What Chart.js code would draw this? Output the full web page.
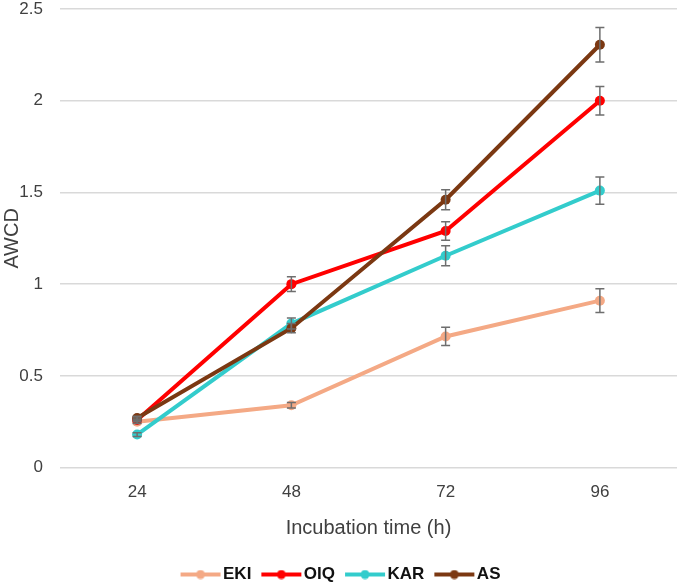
<!DOCTYPE html>
<html>
<head>
<meta charset="utf-8">
<script src="https://cdn.jsdelivr.net/npm/chart.js@4.4.1/dist/chart.umd.min.js"></script>
<style>
  html, body { margin: 0; padding: 0; background: #fff; }
  #wrap { width: 685px; height: 588px; }
</style>
</head>
<body>
<div id="wrap"><canvas id="awcd-chart"></canvas></div>
<script>
const hours = ["24", "48", "72", "96"];
const yTicks = [0, 0.5, 1, 1.5, 2, 2.5];

const ekiValues = [0.25, 0.34, 0.715, 0.91];
const oiqValues = [0.26, 1.0, 1.29, 2.0];
const karValues = [0.18, 0.785, 1.155, 1.51];
const asValues = [0.27, 0.76, 1.46, 2.305];

const ekiErr = [0.01, 0.015, 0.05, 0.065];
const oiqErr = [0.01, 0.04, 0.05, 0.078];
const karErr = [0.01, 0.03, 0.055, 0.074];
const asErr = [0.01, 0.025, 0.055, 0.094];

const colors = ['#F4A985', '#FF0000', '#33CCCC', '#7B3812'];

// line + dot legend symbol, drawn off-centre so the gap to the text stays small
function legendSymbol(color){
    const c = document.createElement('canvas');
    c.width = 52; c.height = 10;
    const g = c.getContext('2d');
    g.strokeStyle = color;
    g.lineWidth = 4;
    g.beginPath(); g.moveTo(11, 5); g.lineTo(51, 5); g.stroke();
    g.fillStyle = color;
    g.beginPath(); g.arc(31, 5, 4.5, 0, Math.PI * 2); g.fill();
    return c;
}

function makeSet(label, data, errs, color, order){
    return {
        label: label,
        data: data,
        errors: errs,
        borderColor: color,
        backgroundColor: color,
        borderWidth: 4,
        pointRadius: 5,
        pointHoverRadius: 5,
        pointBorderWidth: 0,
        pointStyle: 'circle',
        legendSymbol: legendSymbol(color),
        tension: 0,
        order: order
    };
}

const errorBars = {
    id: 'errorBars',
    afterDatasetsDraw(chart){
        const ctx = chart.ctx;
        const y = chart.scales.y;
        ctx.save();
        ctx.strokeStyle = '#6e6e6e';
        ctx.lineWidth = 1.5;
        chart.data.datasets.forEach((ds, i) => {
            const meta = chart.getDatasetMeta(i);
            meta.data.forEach((pt, j) => {
                const e = ds.errors[j];
                if (!e) return;
                const top = y.getPixelForValue(ds.data[j] + e);
                const bot = y.getPixelForValue(ds.data[j] - e);
                if (bot - top < 3) return;
                ctx.beginPath();
                ctx.moveTo(pt.x, top); ctx.lineTo(pt.x, bot);
                ctx.moveTo(pt.x - 4.5, top); ctx.lineTo(pt.x + 4.5, top);
                ctx.moveTo(pt.x - 4.5, bot); ctx.lineTo(pt.x + 4.5, bot);
                ctx.stroke();
            });
        });
        ctx.restore();
    }
};

const tickFont = { family: 'Liberation Sans', size: 17 };
const titleFont = { family: 'Liberation Sans', size: 20 };

const awcdCanvas = document.getElementById('awcd-chart');
let awcdChart = new Chart(awcdCanvas, {
    type: 'line',
    data: {
        labels: hours,
        datasets: [
            makeSet('EKI', ekiValues, ekiErr, colors[0], 4),
            makeSet('OIQ', oiqValues, oiqErr, colors[1], 3),
            makeSet('KAR', karValues, karErr, colors[2], 2),
            makeSet('AS', asValues, asErr, colors[3], 1)
        ]
    },
    options: {
        responsive: true,
        maintainAspectRatio: false,
        animation: false,
        layout: { padding: { left: 0, right: 8, top: 9, bottom: -5 } },
        scales: {
            x: {
                offset: true,
                grid: { display: false },
                border: { display: false },
                ticks: { color: '#404040', font: tickFont, padding: 7 },
                title: {
                    display: true,
                    text: 'Incubation time (h)',
                    color: '#404040',
                    font: titleFont,
                    padding: { top: 6, bottom: 20 }
                }
            },
            y: {
                min: 0,
                max: 2.5,
                afterBuildTicks: axis => { axis.ticks = yTicks.map(v => ({ value: v })); },
                afterFit: axis => { axis.width = 60; axis.paddingTop = 0; },
                grid: { color: '#d9d9d9', lineWidth: 1.5, drawTicks: false },
                border: { display: false },
                ticks: { color: '#404040', font: tickFont, padding: 17, callback: v => String(v) },
                title: {
                    display: true,
                    text: 'AWCD',
                    color: '#404040',
                    font: titleFont,
                    padding: { top: 0, bottom: 0 }
                }
            }
        },
        plugins: {
            legend: {
                position: 'bottom',
                labels: {
                    usePointStyle: true,
                    pointStyleWidth: 38,
                    padding: 6,
                    color: '#111',
                    font: { family: 'Liberation Sans', size: 17, weight: 'bold' },
                    sort: (a, b) => a.datasetIndex - b.datasetIndex,
                    generateLabels: chart => chart.data.datasets.map((ds, i) => ({
                        text: ds.label,
                        fillStyle: ds.borderColor,
                        strokeStyle: ds.borderColor,
                        pointStyle: ds.legendSymbol,
                        fontColor: '#111',
                        lineWidth: 0,
                        hidden: false,
                        datasetIndex: i
                    }))
                }
            },
            tooltip: { enabled: false }
        }
    },
    plugins: [errorBars]
});
</script>
</body>
</html>
